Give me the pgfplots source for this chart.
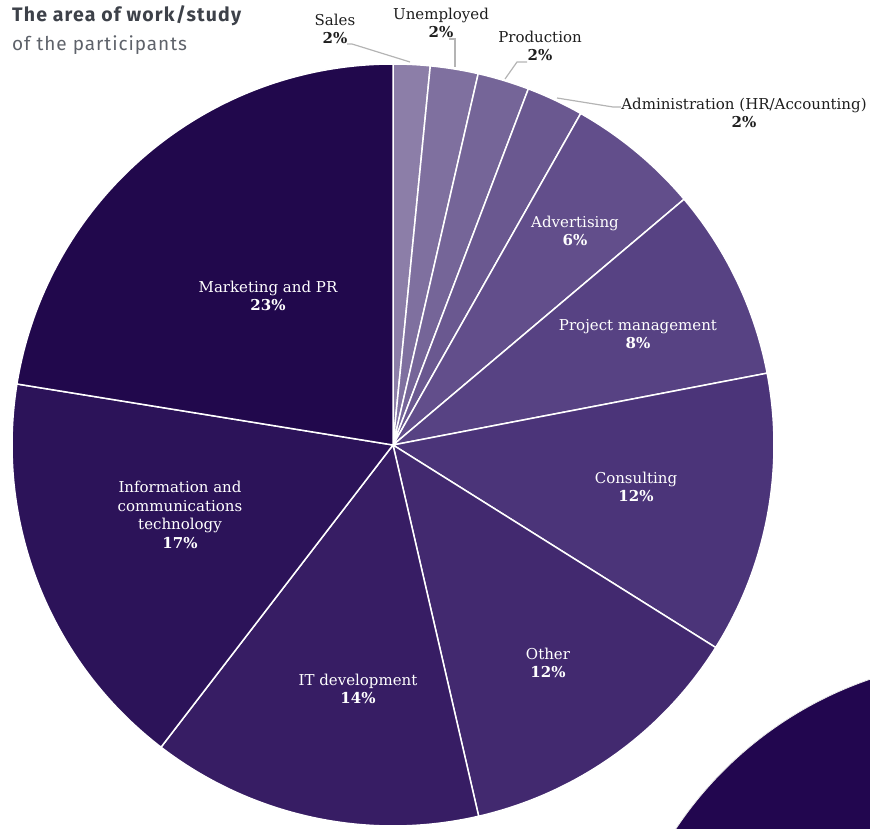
\documentclass[border=0pt]{standalone}
\usepackage{pgfplots}
\usepackage{pgfplotstable}
\pgfplotsset{compat=1.18}
\usepackage{fontspec}
\setmainfont{DejaVu Serif}
\newfontfamily\titlefont[LetterSpace=6.0]{Fira Sans}
\newfontfamily\subfont[LetterSpace=5.0]{Fira Sans}

\definecolor{c1}{HTML}{8C7EA8}
\definecolor{c2}{HTML}{7F709F}
\definecolor{c3}{HTML}{756598}
\definecolor{c4}{HTML}{6A5890}
\definecolor{c5}{HTML}{624E8B}
\definecolor{c6}{HTML}{574283}
\definecolor{c7}{HTML}{4B3479}
\definecolor{c8}{HTML}{42296F}
\definecolor{c9}{HTML}{371D64}
\definecolor{c10}{HTML}{2C1359}
\definecolor{c11}{HTML}{21084C}
\definecolor{deco}{HTML}{22064F}
\definecolor{titlegray}{HTML}{3D4149}
\definecolor{subgray}{HTML}{5E626A}
\definecolor{leader}{HTML}{B4B4B4}
\definecolor{labeltext}{HTML}{1E1E1E}

% share of each area (percent), clockwise from 12 o'clock
\pgfplotstableread{
value col
1.56  c1
2.03  c2
2.19  c3
2.42  c4
5.64  c5
8.14  c6
11.94 c7
12.47 c8
14.03 c9
17.14 c10
22.44 c11
}\piedata

\begin{document}
\begin{tikzpicture}
\begin{axis}[
  width=870pt, height=828pt, scale only axis,
  xmin=0, xmax=870, ymin=0, ymax=828,
  hide axis, clip=true,
]
% decorative circle, bottom right
\fill[deco, draw=white!85!gray, line width=0.8pt] (axis cs:993,-212) circle[radius=381pt];

% pie wedges
\xdef\cumval{0}
\pgfplotsinvokeforeach{0,...,10}{%
  \pgfplotstablegetelem{#1}{value}\of\piedata
  \let\curval\pgfplotsretval
  \pgfmathsetmacro\angA{90-3.6*\cumval}%
  \pgfmathsetmacro\angB{90-3.6*(\cumval+\curval)}%
  \pgfmathsetmacro\tmpcum{\cumval+\curval}%
  \xdef\cumval{\tmpcum}%
  \pgfplotstablegetelem{#1}{col}\of\piedata
  \edef\temp{\noexpand\fill[fill=\pgfplotsretval,draw=white,line width=1.5pt,line join=round] (axis cs:393,383) -- (axis cs:{393+381*cos(\angA)},{383+381*sin(\angA)}) arc[start angle=\angA,end angle=\angB,radius=381pt] -- cycle;}%
  \temp
}

% leader lines
\draw[leader, line width=1.2pt] (axis cs:347,784) -- (axis cs:352,784) -- (axis cs:410,766);
\draw[leader, line width=1.2pt] (axis cs:449,789) -- (axis cs:455,789) -- (axis cs:455,761);
\draw[leader, line width=1.2pt] (axis cs:527,766) -- (axis cs:517,766) -- (axis cs:505,749);
\draw[leader, line width=1.2pt] (axis cs:621,721) -- (axis cs:613,721) -- (axis cs:557,730);

% title
\node[anchor=west, font=\titlefont\bfseries\fontsize{19.5}{22}\selectfont, text=titlegray, inner sep=0pt] at (axis cs:12,812) {The area of work/study};
\node[anchor=west, font=\subfont\fontsize{19}{22}\selectfont, text=subgray, inner sep=0pt] at (axis cs:12,783) {of the participants};

% labels
\tikzset{outl/.style={align=center, font=\fontsize{15}{18.5}\selectfont, text=labeltext, inner sep=0pt},
         inl/.style={align=center, font=\fontsize{15}{18.5}\selectfont, text=white, inner sep=0pt}}
\node[outl] at (axis cs:335,799) {Sales\\\textbf{2\%}};
\node[outl] at (axis cs:441,805) {Unemployed\\\textbf{2\%}};
\node[outl] at (axis cs:540,782) {Production\\\textbf{2\%}};
\node[outl] at (axis cs:744,715) {Administration (HR/Accounting)\\\textbf{2\%}};

\node[inl] at (axis cs:575,597) {Advertising\\\textbf{6\%}};
\node[inl] at (axis cs:638,494) {Project management\\\textbf{8\%}};
\node[inl] at (axis cs:636,341) {Consulting\\\textbf{12\%}};
\node[inl] at (axis cs:548,165) {Other\\\textbf{12\%}};
\node[inl] at (axis cs:358,139) {IT development\\\textbf{14\%}};
\node[inl] at (axis cs:180,313) {Information and\\communications\\technology\\\textbf{17\%}};
\node[inl] at (axis cs:268,532) {Marketing and PR\\\textbf{23\%}};
\end{axis}
\pgfresetboundingbox
\useasboundingbox (current axis.south west) rectangle (current axis.north east);
\end{tikzpicture}
\end{document}
